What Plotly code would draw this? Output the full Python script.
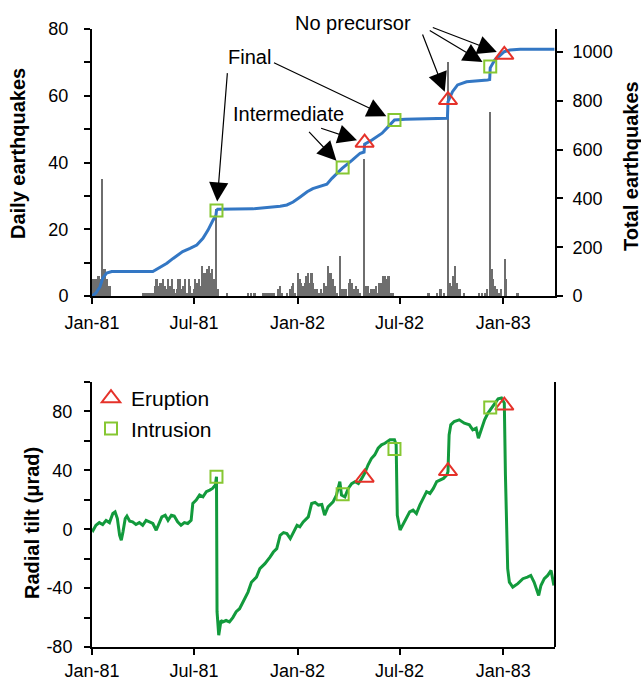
import plotly.graph_objects as go

# ---------------- data ----------------
quake_dates = [
    "1981-01-04", "1981-01-07", "1981-01-10", "1981-01-13", "1981-01-16", "1981-01-19", "1981-01-22",
    "1981-01-25", "1981-01-28", "1981-01-31", "1981-02-03",
    "1981-04-02", "1981-04-05", "1981-04-08", "1981-04-11", "1981-04-14", "1981-04-17", "1981-04-20",
    "1981-04-23", "1981-04-26", "1981-04-29", "1981-05-02", "1981-05-05", "1981-05-08", "1981-05-11",
    "1981-05-14", "1981-05-17", "1981-05-20", "1981-05-23", "1981-05-26", "1981-05-29", "1981-06-01",
    "1981-06-04", "1981-06-07", "1981-06-10", "1981-06-13", "1981-06-16", "1981-06-19", "1981-06-22",
    "1981-06-25", "1981-06-28", "1981-07-01", "1981-07-04", "1981-07-07", "1981-07-10", "1981-07-13",
    "1981-07-16", "1981-07-19", "1981-07-22", "1981-07-25", "1981-07-28", "1981-07-31", "1981-08-03",
    "1981-08-06", "1981-08-10", "1981-08-13", "1981-08-29",
    "1981-10-05", "1981-10-11", "1981-10-17", "1981-11-01", "1981-11-05", "1981-11-09", "1981-11-13",
    "1981-11-17", "1981-11-21", "1981-11-27", "1981-12-01", "1981-12-05", "1981-12-13", "1981-12-19",
    "1981-12-22", "1981-12-25", "1981-12-28",
    "1982-01-02", "1982-01-05", "1982-01-08", "1982-01-11", "1982-01-14", "1982-01-17", "1982-01-20",
    "1982-01-23", "1982-01-26", "1982-01-29", "1982-02-01", "1982-02-04", "1982-02-08", "1982-02-12",
    "1982-02-15", "1982-02-18", "1982-02-21", "1982-02-24", "1982-02-27", "1982-03-02", "1982-03-05",
    "1982-03-08", "1982-03-12", "1982-03-18", "1982-03-22", "1982-03-26", "1982-03-29", "1982-04-02",
    "1982-04-05", "1982-04-08", "1982-04-11", "1982-04-15", "1982-04-18", "1982-04-22", "1982-04-30",
    "1982-05-03", "1982-05-06", "1982-05-09", "1982-05-12", "1982-05-15", "1982-05-18", "1982-05-21",
    "1982-05-24", "1982-05-27", "1982-05-30", "1982-06-03", "1982-06-06", "1982-06-09", "1982-06-12",
    "1982-06-17", "1982-06-20",
    "1982-08-22", "1982-09-06", "1982-09-12", "1982-09-18", "1982-09-25", "1982-09-28", "1982-10-01",
    "1982-10-04", "1982-10-08", "1982-10-12", "1982-10-16", "1982-10-24", "1982-11-20", "1982-11-25",
    "1982-11-30", "1982-12-04", "1982-12-09", "1982-12-12", "1982-12-15", "1982-12-18", "1982-12-21",
    "1982-12-24", "1982-12-28", "1983-01-04", "1983-01-07", "1983-01-27",
]
quake_daily = [
    5, 5, 5, 6, 5, 35, 8,
    8, 5, 3, 3,
    1, 1, 1, 1, 1, 1, 1,
    3, 5, 3, 4, 4, 5, 3,
    2, 5, 3, 5, 2, 1, 2,
    5, 5, 2, 3, 5, 1, 5,
    3, 1, 2, 5, 4, 5, 3,
    9, 7, 7, 8, 9, 7, 8,
    5, 26, 2, 1,
    1, 1, 1, 1, 1, 1, 1,
    1, 1, 2, 3, 1, 1, 2,
    3, 4, 1,
    7, 5, 4, 3, 4, 6, 7,
    4, 7, 4, 2, 2, 1, 2,
    1, 4, 3, 9, 7, 7, 5,
    3, 1, 12, 2, 2, 2, 4,
    5, 4, 2, 3, 2, 1, 41,
    3, 3, 1, 2, 2, 2, 3,
    1, 4, 4, 6, 6, 5, 6,
    1, 1,
    1, 1, 2, 1, 70, 4, 3,
    6, 9, 4, 2, 1, 1, 1,
    1, 2, 55, 8, 5, 3, 2,
    1, 2, 11, 5, 1,
]

total_dates = [
    "1981-01-01", "1981-01-08", "1981-01-15", "1981-01-20", "1981-01-27", "1981-02-05", "1981-04-19",
    "1981-04-26", "1981-05-14", "1981-05-25", "1981-06-11", "1981-06-24", "1981-07-06", "1981-07-17",
    "1981-07-26", "1981-08-04", "1981-08-09", "1981-08-10", "1981-08-12", "1981-10-14", "1981-11-08",
    "1981-12-01", "1981-12-13", "1981-12-24", "1982-01-05", "1982-01-18", "1982-01-28", "1982-02-10",
    "1982-02-22", "1982-03-03", "1982-03-21", "1982-04-08", "1982-04-22", "1982-04-29", "1982-04-30",
    "1982-05-13", "1982-05-31", "1982-06-11", "1982-06-22", "1982-07-11", "1982-09-11", "1982-09-24",
    "1982-09-25", "1982-10-03", "1982-10-12", "1982-10-28", "1982-12-04", "1982-12-08", "1982-12-09",
    "1982-12-17", "1983-01-03", "1983-01-13", "1983-01-31", "1983-04-02",
]
total_quakes = [
    0, 12, 37, 73, 94, 100, 100,
    109, 134, 154, 182, 195, 209, 236,
    270, 311, 330, 350, 355, 357, 362,
    368, 373, 385, 405, 427, 440, 448,
    458, 482, 523, 557, 585, 590, 622,
    639, 667, 694, 721, 724, 726, 728,
    796, 837, 865, 878, 885, 887, 935,
    967, 1001, 1008, 1011, 1011,
]

tilt_dates = [
    "1981-01-01", "1981-01-03", "1981-01-08", "1981-01-14", "1981-01-20", "1981-01-26", "1981-02-01",
    "1981-02-07", "1981-02-11", "1981-02-15", "1981-02-19", "1981-02-22", "1981-02-25", "1981-03-01",
    "1981-03-04", "1981-03-09", "1981-03-14", "1981-03-20", "1981-03-26", "1981-04-01", "1981-04-07",
    "1981-04-13", "1981-04-19", "1981-04-25", "1981-04-29", "1981-05-05", "1981-05-11", "1981-05-16",
    "1981-05-22", "1981-05-27", "1981-06-02", "1981-06-08", "1981-06-14", "1981-06-20", "1981-06-26",
    "1981-06-29", "1981-07-05", "1981-07-11", "1981-07-17", "1981-07-23", "1981-07-29", "1981-08-03",
    "1981-08-08", "1981-08-10", "1981-08-11", "1981-08-12", "1981-08-14", "1981-08-18", "1981-08-21",
    "1981-08-27", "1981-09-02", "1981-09-08", "1981-09-14", "1981-09-20", "1981-09-26", "1981-09-30",
    "1981-10-05", "1981-10-11", "1981-10-20", "1981-10-26", "1981-11-04", "1981-11-13", "1981-11-19",
    "1981-11-25", "1981-12-01", "1981-12-07", "1981-12-13", "1981-12-19", "1981-12-25", "1981-12-31",
    "1982-01-05", "1982-01-11", "1982-01-20", "1982-01-26", "1982-02-01", "1982-02-07", "1982-02-13",
    "1982-02-18", "1982-02-24", "1982-03-05", "1982-03-11", "1982-03-17", "1982-03-20", "1982-03-26",
    "1982-04-01", "1982-04-07", "1982-04-13", "1982-04-19", "1982-04-25", "1982-04-30", "1982-05-06",
    "1982-05-12", "1982-05-18", "1982-05-24", "1982-05-30", "1982-06-05", "1982-06-14", "1982-06-22",
    "1982-06-25", "1982-06-26", "1982-06-27", "1982-07-02", "1982-07-08", "1982-07-13", "1982-07-19",
    "1982-07-25", "1982-07-31", "1982-08-06", "1982-08-12", "1982-08-18", "1982-08-24", "1982-08-30",
    "1982-09-05", "1982-09-11", "1982-09-17", "1982-09-23", "1982-09-25", "1982-09-27", "1982-09-30",
    "1982-10-06", "1982-10-15", "1982-10-24", "1982-11-02", "1982-11-08", "1982-11-14", "1982-11-18",
    "1982-11-23", "1982-11-29", "1982-12-05", "1982-12-11", "1982-12-17", "1982-12-23", "1982-12-29",
    "1983-01-03", "1983-01-05", "1983-01-09", "1983-01-12", "1983-01-18", "1983-01-27", "1983-02-05",
    "1983-02-13", "1983-02-19", "1983-02-25", "1983-03-05", "1983-03-09", "1983-03-15", "1983-03-21",
    "1983-03-27", "1983-04-01",
]
tilt_values = [
    0.5, -0.7, 2.7, 4.5, 3.2, 6, 4.5,
    10.7, 11.8, 7.3, -4, -7.5, -1.8, 7.3,
    8.9, 5.5, 5, 3.2, 4.5, 2.7, 6,
    5, 3.9, -0.7, 2.7, 8.4, 9.5, 6,
    9.5, 9, 5, 2.7, 4.5, 3.9, 6,
    17.5, 19.8, 23.2, 22, 25.5, 26.6, 27.7,
    30, 35.7, -56, -65.5, -72, -62, -63,
    -62, -63, -60, -56, -54, -49.5, -47.5,
    -42.7, -36, -32.5, -26.8, -23.4, -18.9, -15.5,
    -13.2, -4.1, -2.3, -3, -6.4, -1.4, 2.7,
    1.6, 5, 8.4, 17.5, 18.2, 16.4, 16.8,
    9.5, 15.2, 18.6, 23.2, 32.3, 23.2, 22,
    27.7, 31, 32.3, 31, 34.5, 38, 43.6,
    48, 50.5, 55, 57.3, 58.4, 60.7, 60.7,
    57.3, 39, 9.5, -0.5, 4, 7.3, 11.8,
    13, 10.7, 16.4, 20.9, 25.5, 24.3, 27.7,
    32.3, 33.4, 34.5, 36.8, 39, 64, 70.9,
    73.2, 74.3, 72, 70.9, 67.5, 68.6, 61.8,
    67.5, 74.3, 78.9, 82.3, 85.7, 88.6, 89.1,
    85.7, 36.8, -26.8, -36, -39.3, -37, -33.6,
    -32.5, -31.4, -36, -45, -38.2, -33.6, -31.4,
    -28, -38.2,
]

eruption_dates = ["1982-04-30", "1982-09-25", "1983-01-03"]
eruption_total = [628, 803, 988]
eruption_tilt = [35, 39.5, 84]

intrusion_dates = ["1981-08-10", "1982-03-22", "1982-06-22", "1982-12-09"]
intrusion_total = [350, 527, 721, 940]
intrusion_tilt = [35.7, 23.7, 54.5, 82.7]

x_range = ["1981-01-01", "1983-04-03"]
daily_ticks = [0, 20, 40, 60, 80]
total_ticks = [0, 200, 400, 600, 800, 1000]
tilt_ticks = [-80, -40, 0, 40, 80]
tilt_ticktext = ["-80", "-40", "0", "40", "80"]

# ---------------- style ----------------
FONT = "Liberation Sans, Arial, Helvetica, sans-serif"
BLUE = "#3377c4"
GREEN_LINE = "#129a3c"
RED = "#e5322a"
LIME = "#86c732"
GREY = "#6e6e6e"
DAY_MS = 86400000

fig = go.Figure()

fig.add_trace(go.Bar(x=quake_dates, y=quake_daily, width=3 * DAY_MS,
                     marker=dict(color=GREY, line=dict(width=0)),
                     xaxis="x", yaxis="y", showlegend=False))
fig.add_trace(go.Scatter(x=total_dates, y=total_quakes, mode="lines",
                         line=dict(color=BLUE, width=3), xaxis="x", yaxis="y2", showlegend=False))
fig.add_trace(go.Scatter(x=intrusion_dates, y=intrusion_total, mode="markers",
                         marker=dict(symbol="square-open", size=12, color=LIME, line=dict(width=2, color=LIME)),
                         xaxis="x", yaxis="y2", showlegend=False))
fig.add_trace(go.Scatter(x=eruption_dates, y=eruption_total, mode="markers",
                         marker=dict(symbol="triangle-up-open", size=16, color=RED, line=dict(width=2, color=RED)),
                         xaxis="x", yaxis="y2", showlegend=False))

fig.add_trace(go.Scatter(x=tilt_dates, y=tilt_values, mode="lines",
                         line=dict(color=GREEN_LINE, width=3), xaxis="x2", yaxis="y3", showlegend=False))
fig.add_trace(go.Scatter(x=eruption_dates, y=eruption_tilt, mode="markers", name="Eruption",
                         marker=dict(symbol="triangle-up-open", size=16, color=RED, line=dict(width=2, color=RED)),
                         xaxis="x2", yaxis="y3"))
fig.add_trace(go.Scatter(x=intrusion_dates, y=intrusion_tilt, mode="markers", name="Intrusion",
                         marker=dict(symbol="square-open", size=12, color=LIME, line=dict(width=2, color=LIME)),
                         xaxis="x2", yaxis="y3"))

L, R, T, B, W, H = 92, 86, 29, 35, 641, 682
PH = H - T - B

def py(p):
    return (H - B - p) / PH

def px(p):
    return (p - L) / (W - L - R)

top_dom = [py(296), 1.0]
bot_dom = [0.0, py(382)]

xcommon = dict(type="date", range=x_range, dtick="M6", tick0="1981-01-01", tickformat="%b-%y",
               showline=True, linecolor="black", linewidth=2, ticks="outside", ticklen=6,
               tickwidth=2, tickcolor="black", showgrid=False, zeroline=False,
               tickfont=dict(size=18, color="black", family=FONT))
ycommon = dict(showline=True, linecolor="black", linewidth=2, ticks="outside", ticklen=6,
               tickwidth=2, tickcolor="black", showgrid=False, zeroline=False,
               tickfont=dict(size=18, color="black", family=FONT))

fig.update_layout(
    width=W, height=H, margin=dict(l=L, r=R, t=T, b=B, autoexpand=False),
    paper_bgcolor="white", plot_bgcolor="white", bargap=0,
    font=dict(family=FONT, color="black"),
    xaxis=dict(domain=[0, 1], anchor="y", ticklabelstandoff=3, **xcommon),
    xaxis2=dict(domain=[0, 1], anchor="y3", ticklabelstandoff=0, **xcommon),
    yaxis=dict(domain=top_dom, anchor="x", range=[0, 80], tickvals=daily_ticks,
               minor=dict(dtick=10, ticks="outside", ticklen=6, tickwidth=2, tickcolor="black"),
               ticklabelstandoff=12, **ycommon),
    yaxis2=dict(overlaying="y", side="right", anchor="x", range=[0, 1094], tickvals=total_ticks,
                ticklabelstandoff=6, **ycommon),
    yaxis3=dict(domain=bot_dom, anchor="x2", range=[-80, 100], tickvals=tilt_ticks, ticktext=tilt_ticktext,
                minor=dict(dtick=20, ticks="outside", ticklen=6, tickwidth=2, tickcolor="black"),
                ticklabelstandoff=8, **ycommon),
    legend=dict(x=px(91), y=py(378), xanchor="left", yanchor="top", bgcolor="rgba(0,0,0,0)",
                font=dict(size=21, color="black", family=FONT), tracegroupgap=0, itemwidth=30),
    showlegend=True,
)

# right-hand frame line of the lower panel
fig.add_shape(type="line", xref="x2 domain", yref="y3 domain", x0=1, x1=1, y0=0, y1=1,
              line=dict(color="black", width=2))

# axis titles
title_font = dict(size=20, color="black", family=FONT)
fig.add_annotation(text="<b>Daily earthquakes</b>", textangle=-90, xref="paper", yref="paper",
                   x=px(18), y=py(154), xanchor="center", yanchor="middle", showarrow=False, font=title_font)
fig.add_annotation(text="<b>Total earthquakes</b>", textangle=-90, xref="paper", yref="paper",
                   x=px(631), y=py(166), xanchor="center", yanchor="middle", showarrow=False, font=title_font)
fig.add_annotation(text="<b>Radial tilt (μrad)</b>", textangle=-90, xref="paper", yref="paper",
                   x=px(32), y=py(523), xanchor="center", yanchor="middle", showarrow=False, font=title_font)

# labels
lab_font = dict(size=20, color="black", family=FONT)
for txt, cx, cy in [("Final", 249, 57), ("Intermediate", 288, 114), ("No precursor", 353, 23)]:
    fig.add_annotation(text=txt, xref="paper", yref="paper", x=px(cx), y=py(cy),
                       xanchor="center", yanchor="middle", showarrow=False, font=lab_font)

# arrows: (date, total, ax, ay, standoff)
arrows = [
    (intrusion_dates[0], intrusion_total[0], 11, -139, 9),
    (intrusion_dates[2], intrusion_total[2], -122, -58, 9),
    (intrusion_dates[1], intrusion_total[1], -35, -37, 9),
    (eruption_dates[0], eruption_total[0], -45, -15, 8),
    (eruption_dates[1], eruption_total[1], -26, -67, 9),
    (intrusion_dates[3], intrusion_total[3], -62, -37, 9),
    (eruption_dates[2], eruption_total[2], -73, -28, 8),
]
for d, v, ax, ay, so in arrows:
    fig.add_annotation(text="", x=d, y=v, xref="x", yref="y2", ax=ax, ay=ay, axref="pixel", ayref="pixel",
                       showarrow=True, arrowhead=2, arrowsize=3.2, arrowwidth=1.2, arrowcolor="black",
                       standoff=so)

fig.write_html("out.html")
